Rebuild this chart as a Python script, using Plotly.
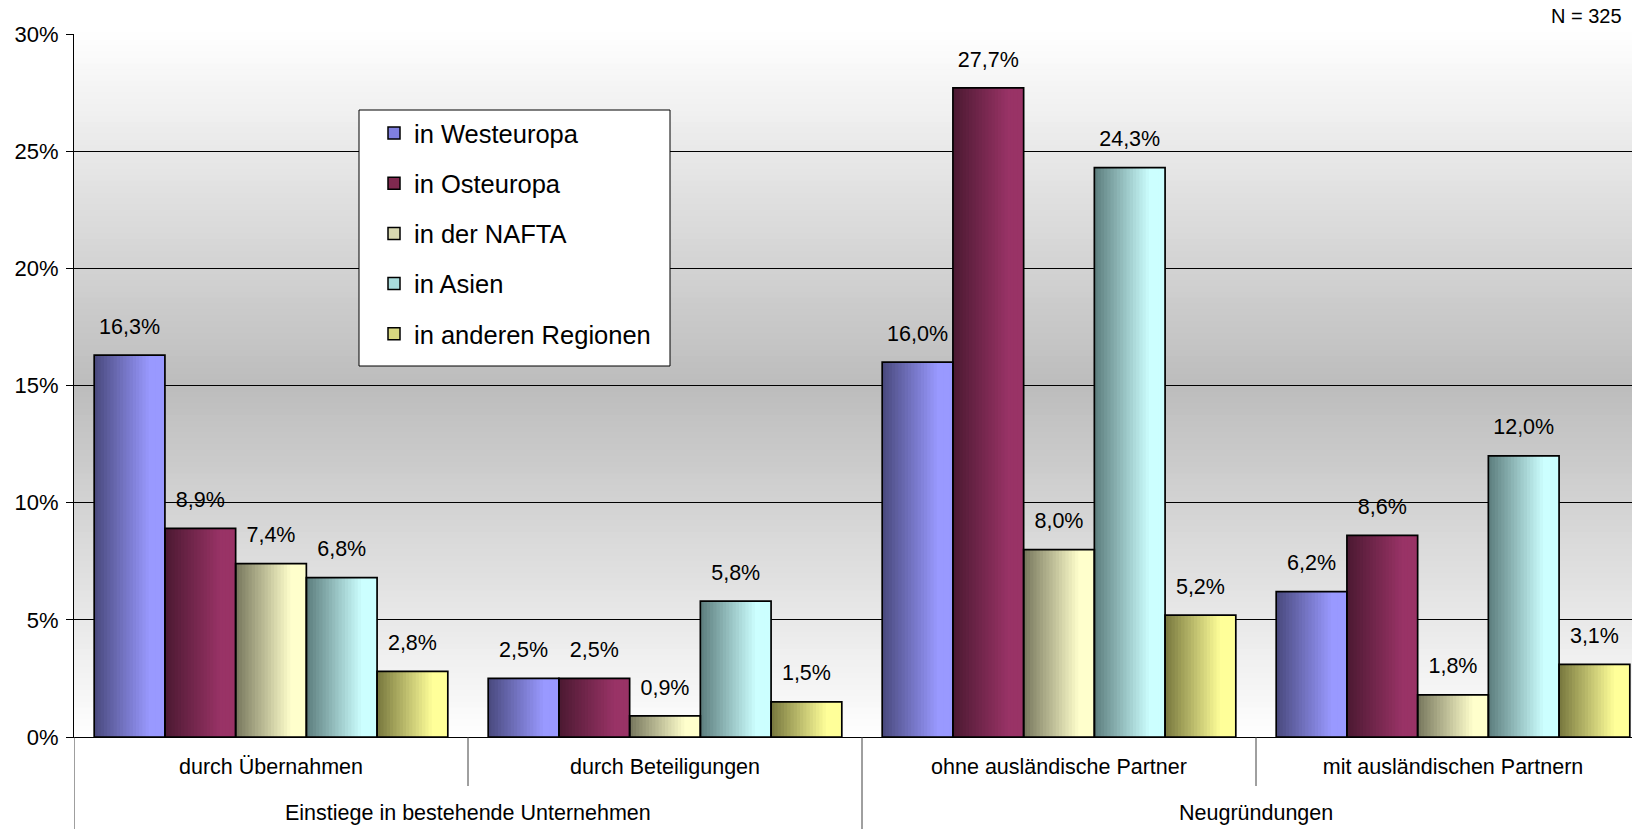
import numpy as np
import plotly.graph_objects as go

# ---------------- data ----------------
subcategories = ["durch Übernahmen", "durch Beteiligungen",
                 "ohne ausländische Partner", "mit ausländischen Partnern"]
groups = ["Einstiege in bestehende Unternehmen", "Einstiege in bestehende Unternehmen",
          "Neugründungen", "Neugründungen"]
series_names = ["in Westeuropa", "in Osteuropa", "in der NAFTA", "in Asien", "in anderen Regionen"]
westeuropa = [16.3, 2.5, 16.0, 6.2]
osteuropa = [8.9, 2.5, 27.7, 8.6]
nafta = [7.4, 0.9, 8.0, 1.8]
asien = [6.8, 5.8, 24.3, 12.0]
andere = [2.8, 1.5, 5.2, 3.1]
y_tick_values = [0, 5, 10, 15, 20, 25, 30]
y_tick_labels = ["0%", "5%", "10%", "15%", "20%", "25%", "30%"]
note_text = "N = 325"

series_values = [westeuropa, osteuropa, nafta, asien, andere]

# ---------------- style ----------------
FONT = "Liberation Sans, Arial, sans-serif"
dark_colors = ["#4b4b80", "#4d1a33", "#7a7a60", "#5f8080", "#7a7a40"]
light_colors = ["#9999ff", "#993366", "#ffffcc", "#ccffff", "#ffff99"]
legend_colors = ["#8080e0", "#80294f", "#d8d8b0", "#a8dcdc", "#d8d880"]

W, H = 1632, 829
ML, MR, MT, MB = 74, 0, 34, 92
plot_w = W - ML - MR
plot_h = H - MT - MB


def px_x(x):
    return (x - ML) / plot_w


def px_y(y):
    return (H - MB - y) / plot_h


def hex2rgb(h):
    h = h.lstrip("#")
    return np.array([int(h[i:i + 2], 16) for i in (0, 2, 4)], dtype=float)


def mix(c1, c2, f):
    c = hex2rgb(c1) * (1 - f) + hex2rgb(c2) * f
    return "rgb(%d,%d,%d)" % tuple(np.round(c).astype(int))


x_idx = np.arange(len(subcategories))
n_series = len(series_values)
bar_w = 0.1795
group_w = bar_w * n_series
start = -group_w / 2
N_SLICES = 22
slice_w = bar_w / N_SLICES

fig = go.Figure()

# gradient bars built from vertical slices
for j, vals in enumerate(series_values):
    for k in range(N_SLICES):
        t = k / (N_SLICES - 1)
        f = min(1.0, t / 0.8)
        off = start + j * bar_w + k * slice_w
        w = min(slice_w * 1.5, bar_w - k * slice_w)
        fig.add_trace(go.Bar(
            x=x_idx, y=vals, width=w, offset=off,
            marker=dict(color=mix(dark_colors[j], light_colors[j], f), line=dict(width=0)),
            showlegend=False, hoverinfo="skip"))

# outlines
for j, vals in enumerate(series_values):
    fig.add_trace(go.Bar(
        x=x_idx, y=vals, width=bar_w, offset=start + j * bar_w,
        marker=dict(color="rgba(0,0,0,0)", line=dict(color="black", width=1.7)),
        showlegend=False, name=series_names[j]))

# value labels
for j, vals in enumerate(series_values):
    fig.add_trace(go.Scatter(
        x=x_idx + start + j * bar_w + bar_w / 2, y=vals,
        mode="markers+text", texttemplate="%{y:.1f}%",
        textposition="top center",
        textfont=dict(family=FONT, size=21.5, color="black"),
        marker=dict(size=24, color="rgba(0,0,0,0)"),
        cliponaxis=False, showlegend=False, hoverinfo="skip"))

# legend entries
for j, name in enumerate(series_names):
    fig.add_trace(go.Bar(
        x=[None], y=[None], name=name, legendgroup=name,
        marker=dict(color=legend_colors[j], line=dict(color="black", width=1.5))))

# background gradient (white - grey - white)
shapes = []
NB = 120
for b in range(NB):
    v0, v1 = b / NB, (b + 1) / NB
    v = (v0 + v1) / 2
    g = 255 - 66 * (1 - abs(v - 0.5) / 0.5)
    shapes.append(dict(type="rect", xref="paper", yref="paper", x0=0, x1=1,
                       y0=v0, y1=v1 + 0.002, fillcolor="rgb(%d,%d,%d)" % (g, g, g),
                       line=dict(width=0), layer="below"))

# legend box
shapes.append(dict(type="rect", xref="paper", yref="paper",
                   x0=px_x(359), x1=px_x(670), y0=px_y(366), y1=px_y(110),
                   fillcolor="white", line=dict(color="black", width=1), layer="above"))

# category dividers
for gi, xb in enumerate(np.arange(len(subcategories) + 1) - 0.5):
    if xb > len(subcategories) - 1:
        continue
    is_group = (gi == 0) or (groups[gi - 1] != groups[min(gi, len(groups) - 1)])
    y_end = -MB / plot_h if is_group else -49 / plot_h
    shapes.append(dict(type="line", xref="x", yref="paper", x0=xb, x1=xb, y0=0, y1=y_end,
                       line=dict(color="#404040", width=1), layer="above"))

annotations = []
uniq_groups = list(dict.fromkeys(groups))
for gname in uniq_groups:
    members = [i for i, g in enumerate(groups) if g == gname]
    annotations.append(dict(x=float(np.mean(members)), y=-76 / plot_h, xref="x", yref="paper",
                            text=gname, showarrow=False, xanchor="center", yanchor="middle",
                            font=dict(family=FONT, size=21.5, color="black")))
annotations.append(dict(x=px_x(1624), y=px_y(16), xref="paper", yref="paper",
                        text=note_text, showarrow=False, xanchor="right", yanchor="middle",
                        font=dict(family=FONT, size=20, color="black")))

fig.update_layout(
    width=W, height=H,
    margin=dict(l=ML, r=MR, t=MT, b=MB),
    paper_bgcolor="white", plot_bgcolor="rgba(0,0,0,0)",
    barmode="overlay", separators=",.",
    font=dict(family=FONT, size=21, color="black"),
    shapes=shapes, annotations=annotations,
    showlegend=True,
    legend=dict(x=px_x(374), y=px_y(110), xanchor="left", yanchor="top",
                bgcolor="rgba(0,0,0,0)", borderwidth=0,
                font=dict(family=FONT, size=25.5, color="black"),
                traceorder="grouped", tracegroupgap=14),
    xaxis=dict(range=[-0.5, -0.5 + plot_w / 394], tickvals=list(x_idx), ticktext=subcategories,
               showgrid=False, zeroline=False, showline=True, linecolor="black", linewidth=1,
               ticks="", ticklabelstandoff=10, tickfont=dict(family=FONT, size=21.5, color="black")),
    yaxis=dict(range=[0, 30], tickmode="array", tickvals=y_tick_values, ticktext=y_tick_labels,
               showgrid=True, gridcolor="black", gridwidth=1, zeroline=False,
               showline=True, linecolor="black", linewidth=1,
               ticks="outside", ticklen=7, tickcolor="black", ticklabelstandoff=3,
               tickfont=dict(family=FONT, size=22, color="black")),
)

fig.write_html("out.html", config={"displayModeBar": False},
               post_script="document.body.style.margin='0px';")
